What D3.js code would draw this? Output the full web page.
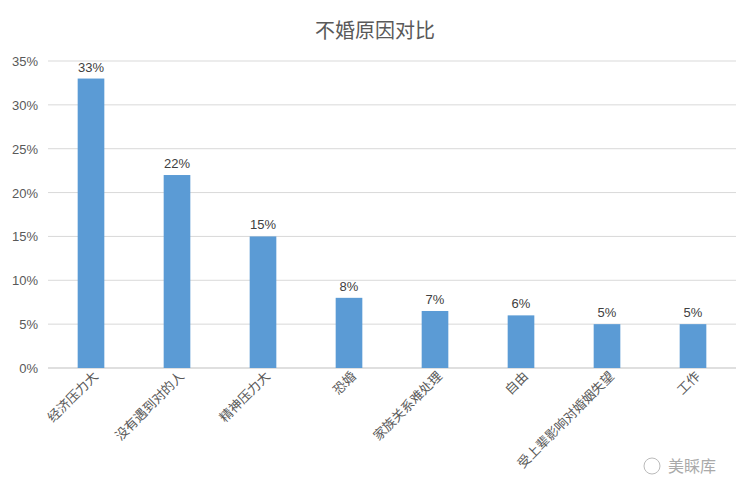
<!DOCTYPE html><html><head><meta charset="utf-8"><script src="https://cdn.jsdelivr.net/npm/d3@7"></script>
<style>body{margin:0;background:#fff}text{font-family:"Liberation Sans","Noto Sans CJK SC",sans-serif}</style></head><body><svg id="c" width="750" height="500"></svg>
<script>
const categories=["经济压力大","没有遇到对的人","精神压力大","恐婚","家族关系难处理","自由","受上辈影响对婚姻失望","工作"];
const values=[33,22,15,8,6.5,6,5,5];
const tickValues=[0,5,10,15,20,25,30,35];
const svg=d3.select("#c");
const x=d3.scaleBand().domain(categories).range([48,736]).paddingInner(0.69).paddingOuter(0.345);
const y=d3.scaleLinear().domain([0,35]).range([368,61]);
svg.append("text").attr("x",375).attr("y",38).attr("text-anchor","middle").attr("font-size",20).attr("fill","#595959").text("不婚原因对比");
svg.append("g").selectAll("line").data(tickValues).join("line").attr("x1",48).attr("x2",736).attr("y1",d=>y(d)).attr("y2",d=>y(d)).attr("stroke",d=>d===0?"#bfbfbf":"#d9d9d9");
svg.append("g").selectAll("text").data(tickValues).join("text").attr("x",38).attr("y",d=>y(d)+5).attr("text-anchor","end").attr("font-size",13).attr("fill","#595959").text(d=>d+"%");
svg.append("g").selectAll("rect").data(values).join("rect").attr("x",(d,i)=>x(categories[i])).attr("width",x.bandwidth()).attr("y",d=>y(d)).attr("height",d=>y(0)-y(d)).attr("fill","#5b9bd5");
svg.append("g").selectAll("text").data(values).join("text").attr("x",(d,i)=>x(categories[i])+x.bandwidth()/2).attr("y",d=>y(d)-7).attr("text-anchor","middle").attr("font-size",13).attr("fill","#404040").text(d=>Math.round(d)+"%");
svg.append("g").selectAll("text").data(categories).join("text").attr("transform",d=>`translate(${x(d)+x.bandwidth()/2+8},${377}) rotate(-45)`).attr("text-anchor","end").attr("font-size",13).attr("fill","#595959").text(d=>d);
svg.append("text").attr("x",668).attr("y",472).attr("font-size",16).attr("fill","#aaa").text("美睬库");
svg.append("circle").attr("cx",652).attr("cy",466).attr("r",8).attr("fill","none").attr("stroke","#bbb");
</script></body></html>
